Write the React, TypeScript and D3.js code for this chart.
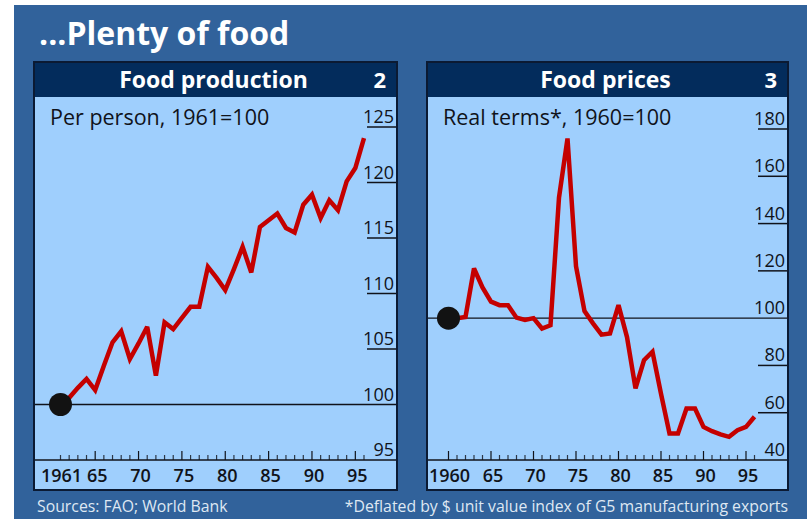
import React from 'react';
import * as d3 from 'd3';

// Food production per person, 1961=100
const prodStart = 1961;
const prodValues = [
  100, 100.6, 101.5, 102.3, 101.3, 103.5, 105.6, 106.6, 104.1, 105.5,
  107.0, 102.6, 107.4, 106.8, 107.8, 108.8, 108.8, 112.4, 111.4, 110.3,
  112.2, 114.2, 111.9, 116.0, 116.6, 117.2, 115.9, 115.5, 118.0, 118.9,
  116.8, 118.4, 117.5, 120.1, 121.3, 124.0,
];
const prodYTicks = [95, 100, 105, 110, 115, 120, 125];
const prodXTicks = [1961, 1965, 1970, 1975, 1980, 1985, 1990, 1995];
const prodXLabels = ['1961', '65', '70', '75', '80', '85', '90', '95'];

// Food prices, real terms, 1960=100
const priceStart = 1960;
const priceValues = [
  100, 100, 100.5, 121.0, 113.0, 107.0, 105.5, 105.5, 100.2, 99.2,
  100.0, 95.6, 97.0, 151.0, 176.0, 122.0, 103.0, 97.8, 93.0, 93.5,
  105.5, 92.0, 70.3, 82.2, 85.8, 68.0, 51.2, 51.2, 61.8, 61.8,
  54.0, 52.2, 50.8, 49.8, 52.6, 54.0, 58.3,
];
const priceYTicks = [40, 60, 80, 100, 120, 140, 160, 180];
const priceXTicks = [1960, 1965, 1970, 1975, 1980, 1985, 1990, 1995];
const priceXLabels = ['1960', '65', '70', '75', '80', '85', '90', '95'];

const W = 807;
const H = 519;
const BG = '#31629b';
const NAVY = '#032c5c';
const PLOT = '#9fcffd';
const RED = '#c40000';
const INK = '#10131a';
const FONT = "'Open Sans', sans-serif";

interface PanelProps {
  left: number;
  right: number;
  title: string;
  num: string;
  subtitle: string;
  start: number;
  values: number[];
  yTicks: number[];
  xTicks: number[];
  xLabels: string[];
  xRange: [number, number];
  yDomain: [number, number];
  yTop: number;
  firstLabelShift: number;
}

const Panel: React.FC<PanelProps> = ({
  left, right, title, num, subtitle, start, values, yTicks, xTicks, xLabels, xRange, yDomain, yTop, firstLabelShift,
}) => {
  const top = 62;
  const headBottom = 97;
  const bottom = 490;
  const axisY = 460;
  const years = values.map((_, i) => start + i);

  const x = d3.scaleLinear().domain([start, years[years.length - 1]]).range(xRange);
  const y = d3.scaleLinear().domain(yDomain).range([axisY, yTop]);

  const line = d3.line<number>()
    .x((_, i) => x(years[i]))
    .y(d => y(d));

  const tickX0 = right - 30;

  return (
    <g>
      <rect x={left} y={headBottom} width={right - left} height={bottom - headBottom} fill={PLOT} />
      <rect x={left} y={top} width={right - left} height={headBottom - top} fill={NAVY} />
      <text x={(left + right) / 2 - 2} y={88} textAnchor="middle" fill="#fff" fontFamily={FONT} fontWeight={700} fontSize={23}>{title}</text>
      <text x={right - 11} y={88} textAnchor="end" fill="#fff" fontFamily={FONT} fontWeight={700} fontSize={22}>{num}</text>
      <text x={left + 16} y={125} fill={INK} fontFamily={FONT} fontSize={21.5}>{subtitle}</text>

      {/* y ticks */}
      {yTicks.map((t, i) => (
        <g key={t}>
          {i > 0 && t !== 100 && (
            <line x1={tickX0} x2={right} y1={y(t)} y2={y(t)} stroke={INK} strokeWidth={1.5} />
          )}
          <text x={right - 3} y={y(t) - 4} textAnchor="end" fill={INK} fontFamily={FONT} fontSize={18}>{t}</text>
        </g>
      ))}

      {/* 100 reference line */}
      <line x1={left} x2={right} y1={y(100)} y2={y(100)} stroke={INK} strokeWidth={1.3} />

      {/* x axis */}
      <line x1={left} x2={right} y1={axisY} y2={axisY} stroke={INK} strokeWidth={1.5} />
      {years.map(yr => {
        const major = xTicks.includes(yr) && yr % 5 === 0;
        return (
          <line key={yr} x1={x(yr)} x2={x(yr)} y1={axisY} y2={axisY - (major ? 9 : 5)} stroke={INK} strokeWidth={1.2} opacity={major ? 1 : 0.8} />
        );
      })}
      {xTicks.map((t, i) => (
        <text key={t} x={x(t) + (i === 0 ? firstLabelShift : 2)} y={482} textAnchor="middle" fill={INK} fontFamily={FONT} fontWeight={600} fontSize={18}>{xLabels[i]}</text>
      ))}

      {/* series */}
      <path d={line(values) || ''} fill="none" stroke={RED} strokeWidth={4.5} strokeLinejoin="miter" strokeMiterlimit={3} />
      <circle cx={x(start)} cy={y(values[0])} r={11.5} fill="#121212" />

      <rect x={left} y={top} width={right - left} height={bottom - top} fill="none" stroke="#0b1a33" strokeWidth={2} />
    </g>
  );
};

export default function App() {
  return (
    <svg width={W} height={H} style={{ position: 'absolute', left: 0, top: 0 }}>
      <rect x={0} y={0} width={W} height={H} fill="#fff" />
      <rect x={14} y={5} width={W - 14} height={H - 5} fill={BG} />
      <text x={39} y={45} fill="#fff" fontFamily={FONT} fontWeight={700} fontSize={32}>...Plenty of food</text>

      <Panel
        left={34} right={397}
        title="Food production" num="2" subtitle="Per person, 1961=100"
        start={prodStart} values={prodValues}
        yTicks={prodYTicks} xTicks={prodXTicks} xLabels={prodXLabels}
        xRange={[60.5, 364]} yDomain={[95, 125]} yTop={127} firstLabelShift={1}
      />
      <Panel
        left={427} right={788}
        title="Food prices" num="3" subtitle="Real terms*, 1960=100"
        start={priceStart} values={priceValues}
        yTicks={priceYTicks} xTicks={priceXTicks} xLabels={priceXLabels}
        xRange={[448.5, 754.5]} yDomain={[40, 180]} yTop={129} firstLabelShift={1}
      />

      <text x={37} y={512} fill="#dfe8f3" fontFamily={FONT} fontSize={15.8}>Sources: FAO; World Bank</text>
      <text x={788} y={512} textAnchor="end" fill="#dfe8f3" fontFamily={FONT} fontSize={15.8}>*Deflated by $ unit value index of G5 manufacturing exports</text>
    </svg>
  );
}
